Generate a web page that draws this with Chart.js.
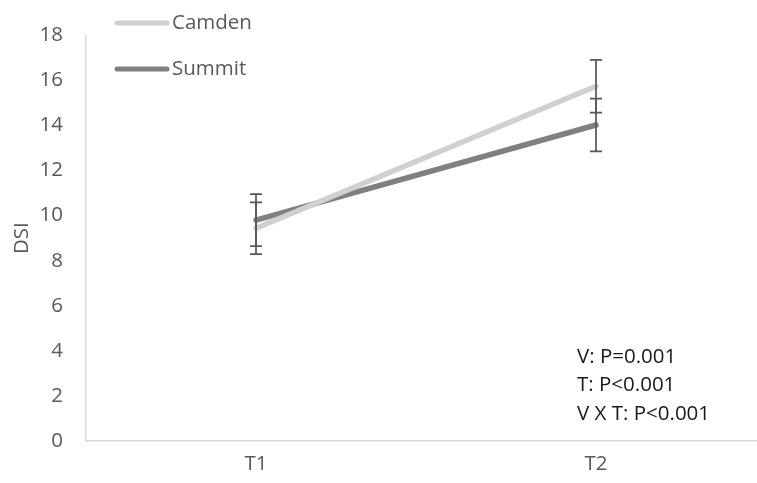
<!DOCTYPE html>
<html>
<head>
<meta charset="utf-8">
<script src="https://cdn.jsdelivr.net/npm/chart.js@4.4.1/dist/chart.umd.min.js"></script>
<style>
  html, body { margin: 0; padding: 0; background: #fff; overflow: hidden; }
  #wrap { position: relative; width: 766px; height: 483px; }
</style>
</head>
<body>
<div id="wrap"><canvas id="c" width="766" height="483"></canvas></div>
<script>
const categories = ['T1', 'T2'];
const seriesNames = ['Camden', 'Summit'];
const camdenValues = [9.44, 15.74];
const camdenErrors = [1.15, 1.17];
const summitValues = [9.80, 14.02];
const summitErrors = [1.15, 1.17];
const yMin = 0, yMax = 18, yStep = 2;
const yTitle = 'DSI';
const statsLines = ['V: P=0.001', 'T: P<0.001', 'V X T: P<0.001'];

const FONT = "'Open Sans', Lato, sans-serif";
const TXT = '#595959';
const FS = 20.5;

const errorBarPlugin = {
  id: 'errorBars',
  afterDatasetsDraw(chart) {
    const ctx = chart.ctx;
    const y = chart.scales.y;
    chart.data.datasets.forEach((ds, i) => {
      const meta = chart.getDatasetMeta(i);
      meta.data.forEach((pt, j) => {
        const v = ds.data[j], e = ds.errors[j];
        const yt = y.getPixelForValue(v + e), yb = y.getPixelForValue(v - e);
        ctx.save();
        ctx.strokeStyle = '#595959';
        ctx.lineWidth = 1.75;
        ctx.beginPath();
        ctx.moveTo(pt.x, yt); ctx.lineTo(pt.x, yb);
        ctx.moveTo(pt.x - 6, yt); ctx.lineTo(pt.x + 6, yt);
        ctx.moveTo(pt.x - 6, yb); ctx.lineTo(pt.x + 6, yb);
        ctx.stroke();
        ctx.restore();
      });
    });
  }
};

const legendPlugin = {
  id: 'innerLegend',
  afterDraw(chart) {
    const ctx = chart.ctx;
    const rows = [23, 69];
    chart.data.datasets.forEach((ds, i) => {
      const yy = rows[i];
      ctx.save();
      ctx.strokeStyle = ds.borderColor;
      ctx.lineWidth = 5;
      ctx.lineCap = 'round';
      ctx.beginPath();
      ctx.moveTo(117, yy); ctx.lineTo(167, yy);
      ctx.stroke();
      ctx.fillStyle = TXT;
      ctx.font = FS + 'px ' + FONT;
      ctx.textBaseline = 'middle';
      ctx.textAlign = 'left';
      ctx.fillText(ds.label, 172, yy);
      ctx.restore();
    });
  }
};

const statsPlugin = {
  id: 'stats',
  afterDraw(chart) {
    const ctx = chart.ctx;
    ctx.save();
    ctx.fillStyle = '#1a1a1a';
    ctx.font = FS + 'px ' + FONT;
    ctx.textBaseline = 'middle';
    ctx.textAlign = 'left';
    statsLines.forEach((t, i) => ctx.fillText(t, 577, 357 + i * 28.5));
    ctx.restore();
  }
};

new Chart(document.getElementById('c'), {
  type: 'line',
  data: {
    labels: categories,
    datasets: [
      { label: seriesNames[0], data: camdenValues, errors: camdenErrors,
        borderColor: '#D0D0D0', borderWidth: 5.5, pointRadius: 0, borderCapStyle: 'round', tension: 0 },
      { label: seriesNames[1], data: summitValues, errors: summitErrors,
        borderColor: '#808080', borderWidth: 5.5, pointRadius: 0, borderCapStyle: 'round', tension: 0 }
    ]
  },
  options: {
    responsive: false,
    animation: false,
    layout: { padding: { top: 29, right: 0, left: 0, bottom: 0 } },
    plugins: { legend: { display: false }, tooltip: { enabled: false } },
    scales: {
      x: {
        offset: true,
        grid: { display: false, drawTicks: false },
        border: { display: true, color: '#D9D9D9', width: 1.5 },
        ticks: { color: TXT, font: { family: FONT, size: FS }, padding: 11 },
        afterFit(s) { s.height = 42; }
      },
      y: {
        min: yMin, max: yMax,
        grid: { display: false, drawTicks: false },
        border: { display: true, color: '#D9D9D9', width: 1.5 },
        ticks: { stepSize: yStep, color: TXT, font: { family: FONT, size: FS }, padding: 23 },
        title: { display: true, text: yTitle, color: TXT, font: { family: FONT, size: FS }, padding: { top: 10, bottom: 0 } },
        afterFit(s) { s.width = 86; }
      }
    }
  },
  plugins: [errorBarPlugin, legendPlugin, statsPlugin]
});
</script>
</body>
</html>
